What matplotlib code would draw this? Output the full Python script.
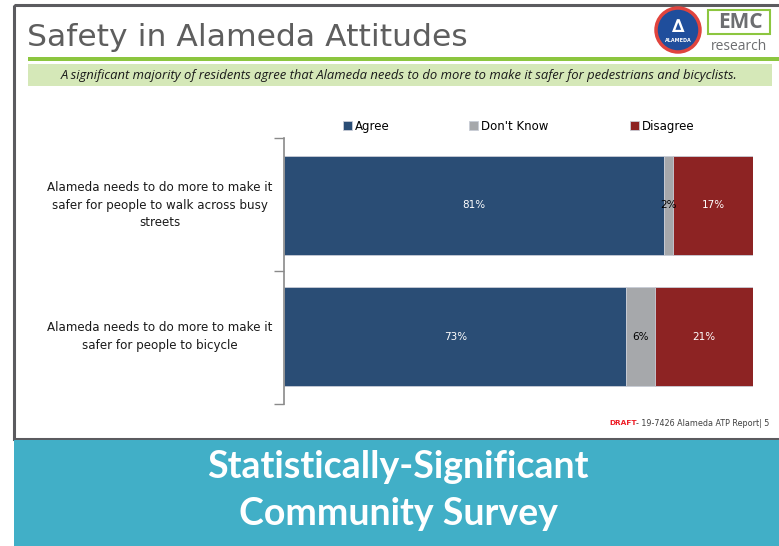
import matplotlib
matplotlib.use("Agg")
import matplotlib.pyplot as plt
from matplotlib.patches import Rectangle, Circle

# data
questions = ["Alameda needs to do more to make it\nsafer for people to walk across busy\nstreets",
             "Alameda needs to do more to make it\nsafer for people to bicycle"]
series_names = ["Agree", "Don't Know", "Disagree"]
agree = [81, 73]
dont_know = [2, 6]
disagree = [17, 21]
series_colors = ["#2a4d75", "#a6a8ab", "#8d2323"]
label_colors = ["white", "black", "white"]

W, H = 779, 546
fig = plt.figure(figsize=(W / 100, H / 100), dpi=100)
fig.patch.set_facecolor("white")

def fx(x):
    return x / W

def fy(y):
    return 1 - y / H

#slide frame
bg = fig.add_axes([0, 0, 1, 1])
bg.set_xlim(0, W)
bg.set_ylim(H, 0)
bg.axis("off")
bg.add_patch(Rectangle((14, 5), W, 434, fill=False, edgecolor="#5b5b5f", linewidth=2.2))
bg.add_patch(Rectangle((14, 440), W, 110, facecolor="#41afc7", edgecolor="none"))

#title and header bars
bg.text(27, 37, "Safety in Alameda Attitudes", fontsize=22.6, color="#5e5e5e",
        family="DejaVu Sans", va="center", ha="left")
bg.add_patch(Rectangle((28, 56.5), W, 4, facecolor="#8cc63f", edgecolor="none"))
bg.add_patch(Rectangle((28, 64), 744, 22, facecolor="#d5e8b8", edgecolor="none"))
bg.text(399, 75, "A significant majority of residents agree that Alameda needs to do more to make it safer for pedestrians and bicyclists.",
        fontsize=9.35, style="italic", color="#1a1a1a", ha="center", va="center", family="Open Sans")

#logos (rough)
bg.add_patch(Circle((678, 30), 22, facecolor="#1f4e9c", edgecolor="#e0443e", linewidth=2.5))
bg.text(678, 27, "\u2206", fontsize=13, color="white", ha="center", va="center", fontweight="bold")
bg.text(678, 40, "ALAMEDA", fontsize=3.5, color="white", ha="center", va="center", fontweight="bold")
bg.add_patch(Rectangle((708, 10), 62, 24, fill=False, edgecolor="#8cc63f", linewidth=1.5))
bg.text(740, 22, "EMC", fontsize=15, color="#6d6e71", ha="center", va="center",
        fontweight="bold", family="Open Sans")
bg.text(739, 46, "research", fontsize=10, color="#6d6e71", ha="center", va="center", family="Open Sans")

#footer
bg.text(609, 423, "DRAFT", fontsize=5.3, color="#ee1c25", fontweight="bold", ha="left", va="center")
bg.text(636, 423, "- 19-7426 Alameda ATP Report| 5", fontsize=5.8, color="#404040", ha="left", va="center")

#teal band text
bg.text(398, 467, "Statistically-Significant", fontsize=27, color="white", fontweight="bold",
        family="Lato", ha="center", va="center")
bg.text(398, 514, "Community Survey", fontsize=27, color="white", fontweight="bold",
        family="Lato", ha="center", va="center")

#chart
ax = fig.add_axes([fx(284), fy(404), fx(753 - 284), (404 - 138) / H])
ypos = list(range(len(questions)))
left = [0] * len(questions)
handles = []
for vals, name, col, lc in zip([agree, dont_know, disagree], series_names, series_colors, label_colors):
    bars = ax.barh(ypos, vals, left=left, height=0.76, color=col, label=name,
                   edgecolor="#c8ccd6", linewidth=0.6)
    handles.append(bars)
    for b, v in zip(bars, vals):
        ax.text(b.get_x() + b.get_width() / 2, b.get_y() + b.get_height() / 2, "%d%%" % v,
                ha="center", va="center", fontsize=7.5, color=lc)
    left = [l + v for l, v in zip(left, vals)]

ax.set_xlim(0, 100)
ax.set_ylim(1.515, -0.515)
ax.set_xticks([])
ax.set_yticks([-0.515, 0.5, 1.515])
ax.set_yticklabels([])
ax.tick_params(axis="y", length=7, color="#8a8a8a", width=1)
for s in ["top", "right", "bottom"]:
    ax.spines[s].set_visible(False)
ax.spines["left"].set_color("#8a8a8a")
ax.spines["left"].set_linewidth(1.2)

# question labels centred around x=160 px
for i, q in enumerate(questions):
    ax.text((160 - 284) / 469 * 100, i, q, ha="center", va="center", fontsize=8.6,
            color="#1a1a1a", linespacing=1.45)

# legend entries placed where the slide has them
leg_x = [346, 472, 633]
for h, name, x in zip(handles, series_names, leg_x):
    fig.legend([h], [name], loc="center left", bbox_to_anchor=(fx(x - 8), fy(126)),
               frameon=False, fontsize=8.5, handlelength=0.75, handleheight=0.75,
               handletextpad=0.3, borderaxespad=0, borderpad=0.4)

fig.savefig("out.png", dpi=100)
